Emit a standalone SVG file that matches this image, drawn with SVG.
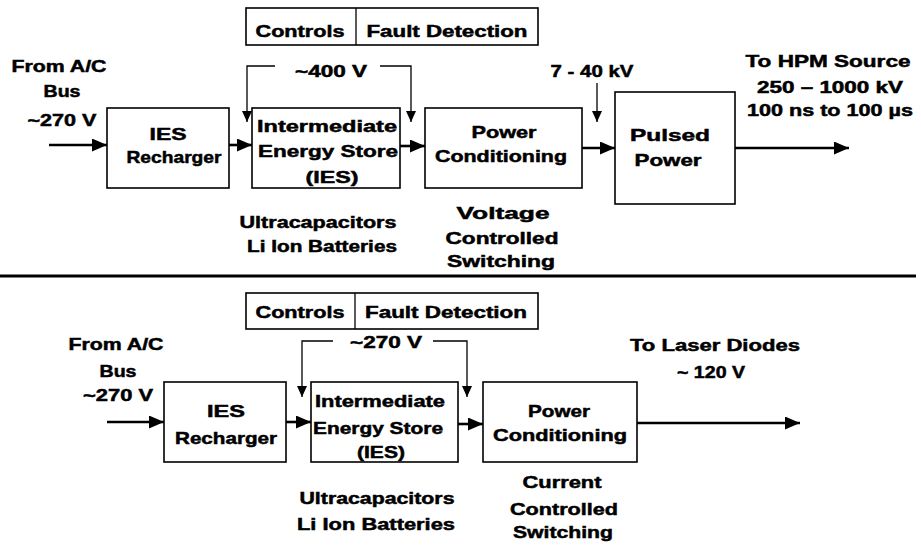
<svg xmlns="http://www.w3.org/2000/svg" width="921" height="547" viewBox="0 0 921 547">
<style>
.t{font-family:"Liberation Sans",Arial,sans-serif;font-weight:bold;font-size:17px;fill:#000;stroke:#000;stroke-width:0.5;text-anchor:middle}
.box{fill:#fff;stroke:#000;stroke-width:1.6}
.main{fill:none;stroke:#000;stroke-width:2.6}
.thin{fill:none;stroke:#000;stroke-width:1.3}
</style>
<defs>
<marker id="ah" markerUnits="userSpaceOnUse" markerWidth="15" markerHeight="13" refX="15" refY="6.5" orient="auto">
<path d="M0,0 L15,6.5 L0,13 z" fill="#000"/>
</marker>
<marker id="ahs" markerUnits="userSpaceOnUse" markerWidth="11" markerHeight="10" refX="11" refY="5" orient="auto">
<path d="M0,0 L11,5 L0,10 z" fill="#000"/>
</marker>
</defs>
<rect width="921" height="547" fill="#fff"/>

<!-- TOP DIAGRAM -->
<g id="top-controls">
<rect class="box" x="246" y="8" width="292" height="37"/>
<line x1="356" y1="8" x2="356" y2="45" stroke="#000" stroke-width="1.3"/>
<text class="t" x="300" y="37" textLength="89" lengthAdjust="spacingAndGlyphs">Controls</text>
<text class="t" x="447" y="37" textLength="161" lengthAdjust="spacingAndGlyphs">Fault Detection</text>
</g>
<g id="top-source">
<text class="t" x="59" y="72" textLength="95" lengthAdjust="spacingAndGlyphs">From A/C</text>
<text class="t" x="62" y="97" textLength="37" lengthAdjust="spacingAndGlyphs">Bus</text>
<text class="t" x="62" y="126" textLength="69" lengthAdjust="spacingAndGlyphs">~270 V</text>
</g>
<g id="top-recharger">
<rect class="box" x="107" y="108" width="122" height="80"/>
<text class="t" x="168" y="140" textLength="37" lengthAdjust="spacingAndGlyphs">IES</text>
<text class="t" x="174" y="163" textLength="95" lengthAdjust="spacingAndGlyphs">Recharger</text>
</g>
<g id="top-ies">
<rect class="box" x="252" y="108" width="148" height="80"/>
<text class="t" x="327" y="132" textLength="140" lengthAdjust="spacingAndGlyphs">Intermediate</text>
<text class="t" x="328" y="157" textLength="140" lengthAdjust="spacingAndGlyphs">Energy Store</text>
<text class="t" x="332" y="183" textLength="53" lengthAdjust="spacingAndGlyphs">(IES)</text>
</g>
<g id="top-ies-note">
<text class="t" x="318" y="228" textLength="157" lengthAdjust="spacingAndGlyphs">Ultracapacitors</text>
<text class="t" x="322" y="252" textLength="150" lengthAdjust="spacingAndGlyphs">Li Ion Batteries</text>
</g>
<g id="top-pc">
<rect class="box" x="425" y="108" width="157" height="80"/>
<text class="t" x="504" y="138" textLength="65" lengthAdjust="spacingAndGlyphs">Power</text>
<text class="t" x="501" y="162" textLength="132" lengthAdjust="spacingAndGlyphs">Conditioning</text>
</g>
<g id="top-pc-note">
<text class="t" x="503" y="219" textLength="93" lengthAdjust="spacingAndGlyphs">Voltage</text>
<text class="t" x="502" y="244" textLength="113" lengthAdjust="spacingAndGlyphs">Controlled</text>
<text class="t" x="501" y="267" textLength="108" lengthAdjust="spacingAndGlyphs">Switching</text>
</g>
<g id="top-pulsed">
<rect class="box" x="615" y="92" width="120" height="112"/>
<text class="t" x="670" y="141" textLength="80" lengthAdjust="spacingAndGlyphs">Pulsed</text>
<text class="t" x="668" y="166" textLength="67" lengthAdjust="spacingAndGlyphs">Power</text>
</g>
<g id="top-output">
<text class="t" x="828" y="67" textLength="165" lengthAdjust="spacingAndGlyphs">To HPM Source</text>
<text class="t" x="830" y="93" textLength="146" lengthAdjust="spacingAndGlyphs">250 – 1000 kV</text>
<text class="t" x="830" y="116" textLength="166" lengthAdjust="spacingAndGlyphs">100 ns to 100 µs</text>
</g>
<g id="top-labels">
<text class="t" x="331" y="77" textLength="72" lengthAdjust="spacingAndGlyphs">~400 V</text>
<text class="t" x="592" y="77" textLength="83" lengthAdjust="spacingAndGlyphs">7 - 40 kV</text>
</g>

<!-- separator -->
<line x1="0" y1="276" x2="916" y2="276" stroke="#000" stroke-width="3"/>

<!-- BOTTOM DIAGRAM -->
<g id="bot-controls">
<rect class="box" x="246" y="293" width="292" height="36"/>
<line x1="355" y1="293" x2="355" y2="329" stroke="#000" stroke-width="1.3"/>
<text class="t" x="300" y="318" textLength="89" lengthAdjust="spacingAndGlyphs">Controls</text>
<text class="t" x="446" y="318" textLength="162" lengthAdjust="spacingAndGlyphs">Fault Detection</text>
</g>
<g id="bot-source">
<text class="t" x="116" y="350" textLength="95" lengthAdjust="spacingAndGlyphs">From A/C</text>
<text class="t" x="118" y="377" textLength="37" lengthAdjust="spacingAndGlyphs">Bus</text>
<text class="t" x="118" y="401" textLength="70" lengthAdjust="spacingAndGlyphs">~270 V</text>
</g>
<g id="bot-recharger">
<rect class="box" x="164" y="382" width="122" height="80"/>
<text class="t" x="226" y="417" textLength="38" lengthAdjust="spacingAndGlyphs">IES</text>
<text class="t" x="226" y="444" textLength="102" lengthAdjust="spacingAndGlyphs">Recharger</text>
</g>
<g id="bot-ies">
<rect class="box" x="311" y="382" width="147" height="80"/>
<text class="t" x="380" y="407" textLength="130" lengthAdjust="spacingAndGlyphs">Intermediate</text>
<text class="t" x="378" y="434" textLength="130" lengthAdjust="spacingAndGlyphs">Energy Store</text>
<text class="t" x="381" y="458" textLength="48" lengthAdjust="spacingAndGlyphs">(IES)</text>
</g>
<g id="bot-ies-note">
<text class="t" x="377" y="504" textLength="155" lengthAdjust="spacingAndGlyphs">Ultracapacitors</text>
<text class="t" x="376" y="530" textLength="158" lengthAdjust="spacingAndGlyphs">Li Ion Batteries</text>
</g>
<g id="bot-pc">
<rect class="box" x="483" y="382" width="154" height="80"/>
<text class="t" x="559" y="417" textLength="62" lengthAdjust="spacingAndGlyphs">Power</text>
<text class="t" x="560" y="441" textLength="134" lengthAdjust="spacingAndGlyphs">Conditioning</text>
</g>
<g id="bot-pc-note">
<text class="t" x="562" y="488" textLength="79" lengthAdjust="spacingAndGlyphs">Current</text>
<text class="t" x="564" y="515" textLength="108" lengthAdjust="spacingAndGlyphs">Controlled</text>
<text class="t" x="563" y="538" textLength="100" lengthAdjust="spacingAndGlyphs">Switching</text>
</g>
<g id="bot-output">
<text class="t" x="715" y="351" textLength="170" lengthAdjust="spacingAndGlyphs">To Laser Diodes</text>
<text class="t" x="711" y="378" textLength="68" lengthAdjust="spacingAndGlyphs">~ 120 V</text>
</g>
<g id="bot-labels">
<text class="t" x="386" y="348" textLength="72" lengthAdjust="spacingAndGlyphs">~270 V</text>
</g>

<!-- CONNECTORS -->
<g id="connectors">
<line class="main" x1="49" y1="145" x2="107" y2="145" marker-end="url(#ah)"/>
<line class="main" x1="229" y1="145" x2="252" y2="145" marker-end="url(#ah)"/>
<line class="main" x1="400" y1="146" x2="425" y2="146" marker-end="url(#ah)"/>
<line class="main" x1="582" y1="148" x2="615" y2="148" marker-end="url(#ah)"/>
<line class="main" x1="735" y1="148" x2="849" y2="148" marker-end="url(#ah)"/>
<polyline class="thin" points="275,66 247,66 247,122" marker-end="url(#ahs)"/>
<polyline class="thin" points="380,66 411,66 411,122" marker-end="url(#ahs)"/>
<line class="thin" x1="597" y1="83" x2="597" y2="122" marker-end="url(#ahs)"/>

<line class="main" x1="107" y1="422" x2="164" y2="422" marker-end="url(#ah)"/>
<line class="main" x1="286" y1="422" x2="311" y2="422" marker-end="url(#ah)"/>
<line class="main" x1="458" y1="424" x2="483" y2="424" marker-end="url(#ah)"/>
<line class="main" x1="637" y1="423" x2="800" y2="423" marker-end="url(#ah)"/>
<polyline class="thin" points="333,341 302,341 302,397" marker-end="url(#ahs)"/>
<polyline class="thin" points="433,341 467,341 467,397" marker-end="url(#ahs)"/>
</g>
</svg>
